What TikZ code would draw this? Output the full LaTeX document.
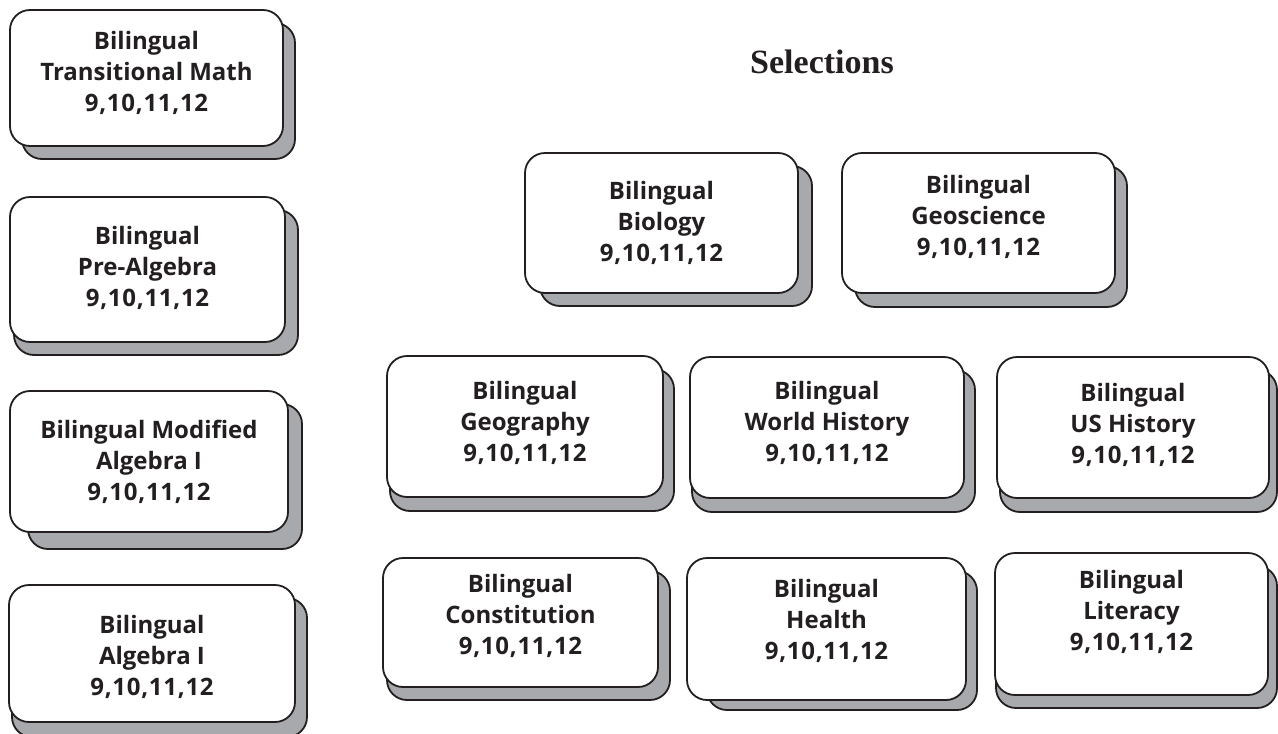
\documentclass[tikz,border=0pt]{standalone}
\usepackage{fontspec}
\setmainfont{Open Sans}
\newfontfamily\titlefont{Liberation Serif}
\newfontfamily\gradefont[LetterSpace=3]{Open Sans}
\usetikzlibrary{fit}
\definecolor{shade}{RGB}{167,169,172}
\definecolor{ink}{RGB}{35,31,32}
\newcommand\grades{{\gradefont\bfseries 9,10,11,12}}
\tikzset{
  card/.style={draw=ink, line width=1.8pt, fill=white, rounded corners=20pt, inner sep=0pt},
  cardshadow/.style={draw=ink, line width=1.8pt, fill=shade, rounded corners=20pt},
  cardtext/.style={font=\bfseries\fontsize{24}{31}\selectfont, text=ink, align=center, inner sep=0pt},
  titletext/.style={font=\titlefont\bfseries\fontsize{34}{40}\selectfont, text=ink, inner sep=0pt, anchor=base},
}
\begin{document}
\begin{tikzpicture}[x=1pt, y=-1pt]
\useasboundingbox (0,0) rectangle (1278,734);

\node[titletext] (title) at (822,73) {Selections};

% Left column
\path[cardshadow] (22,23) rectangle (295,159);
\node[card, fit={(10,10) (283,146)}] (tm) {};
\node[cardtext] (tmt) at (146.5,73) {Bilingual\\Transitional Math\\\grades};

\path[cardshadow] (14,210) rectangle (298,355);
\node[card, fit={(10,197) (285,342)}] (pa) {};
\node[cardtext] (pat) at (147.5,268) {Bilingual\\Pre-Algebra\\\grades};

\path[cardshadow] (28,404) rectangle (302,549);
\node[card, fit={(10,391) (288,532)}] (ma) {};
\node[cardtext] (mat) at (149,462) {Bilingual Modified\\Algebra I\\\grades};

\path[cardshadow] (12,598) rectangle (307,737);
\node[card, fit={(9,585) (295,722)}] (al) {};
\node[cardtext] (alt) at (152,657) {Bilingual\\Algebra I\\\grades};

% Row 1
\path[cardshadow] (540,166) rectangle (812,306);
\node[card, fit={(525,153) (798,293)}] (bio) {};
\node[cardtext] (biot) at (661.5,223) {Bilingual\\Biology\\\grades};

\path[cardshadow] (855,166) rectangle (1127,307);
\node[card, fit={(842,153) (1115,293)}] (geo) {};
\node[cardtext] (geot) at (978.5,217) {Bilingual\\Geoscience\\\grades};

% Row 2
\path[cardshadow] (390,369) rectangle (674,511);
\node[card, fit={(387,356) (663,497)}] (gg) {};
\node[cardtext] (ggt) at (525,423) {Bilingual\\Geography\\\grades};

\path[cardshadow] (692,370) rectangle (975,512);
\node[card, fit={(690,357) (964,498)}] (wh) {};
\node[cardtext] (wht) at (827,423) {Bilingual\\World History\\\grades};

\path[cardshadow] (1000,370) rectangle (1277,512);
\node[card, fit={(997,357) (1269,498)}] (us) {};
\node[cardtext] (ust) at (1133,425) {Bilingual\\US History\\\grades};

% Row 3
\path[cardshadow] (387,571) rectangle (670,700);
\node[card, fit={(383,558) (658,687)}] (co) {};
\node[cardtext] (cot) at (520.5,616) {Bilingual\\Constitution\\\grades};

\path[cardshadow] (707,571) rectangle (977,710);
\node[card, fit={(687,558) (966,700)}] (he) {};
\node[cardtext] (het) at (826.5,621) {Bilingual\\Health\\\grades};

\path[cardshadow] (996,566) rectangle (1277,708);
\node[card, fit={(995,553) (1268,695)}] (li) {};
\node[cardtext] (lit) at (1131.5,612) {Bilingual\\Literacy\\\grades};
\end{tikzpicture}
\end{document}
